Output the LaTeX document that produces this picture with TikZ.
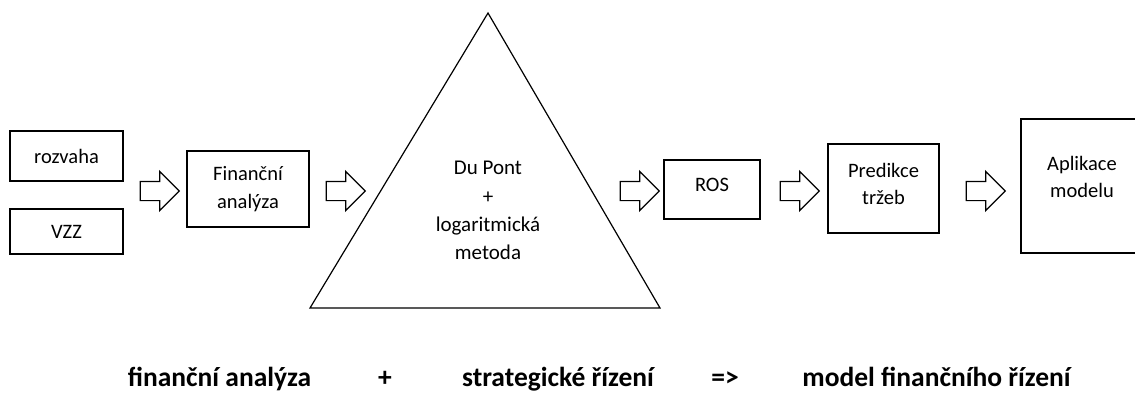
\documentclass[tikz,border=0pt]{standalone}
\usepackage{fontspec}
\setmainfont{Carlito}
\usetikzlibrary{shapes.arrows,calc}
\tikzset{
  box/.style={draw, line width=1.2pt, inner sep=0pt},
  blockarr/.style={single arrow, draw, line width=1.2pt, minimum height=39pt,
    single arrow head extend=10pt, inner sep=0pt, inner ysep=9pt},
  txt/.style={align=center, font=\fontsize{20.5}{27.5}\selectfont},
  foot/.style={anchor=base, font=\fontsize{27.5}{33}\selectfont\bfseries},
}

\begin{document}
\begin{tikzpicture}[x=1pt,y=1pt,yscale=-1,xscale=1]
\useasboundingbox (0,0) rectangle (1135,392);
\clip (0,0) rectangle (1135,392);

%Shape: Rectangle [rozvaha]
\node[box, txt, minimum width=113pt, minimum height=50pt] (rozv) at (66.5,156) {rozvaha};
%Shape: Rectangle [VZZ]
\node[box, txt, minimum width=113pt, minimum height=45pt] (vzz) at (66.5,231.5) {VZZ};
%Shape: Rectangle [Financni analyza]
\node[box, txt, minimum width=122pt, minimum height=76pt] (fin) at (248,189) {Finanční\\analýza};

%Shape: Triangle
\coordinate (triL) at (310,308);
\coordinate (triT) at (488,13);
\coordinate (triR) at (660,308);
\draw[line width=1.2pt, line join=miter] (triL) -- (triT) -- (triR) -- cycle;
% Text Node
\node[txt, font=\fontsize{21}{28.3}\selectfont] (dupont) at (488,210.5) {Du Pont\\+\\logaritmická\\metoda};

%Shape: Rectangle [ROS]
\node[box, minimum width=96pt, minimum height=59pt] (ros) at (712,189.5) {};
\node[txt] (rostxt) at ($(ros)+(0,-5)$) {ROS};
%Shape: Rectangle [Predikce trzeb]
\node[box, minimum width=111pt, minimum height=89pt] (pred) at (883.5,188.5) {};
\node[txt] (predtxt) at ($(pred)+(0,-4.5)$) {Predikce\\tržeb};
%Shape: Rectangle [Aplikace modelu]
\node[box, minimum width=122pt, minimum height=134pt] (apl) at (1082,186) {};
\node[txt] (apltxt) at ($(apl)+(0,-9)$) {Aplikace\\modelu};

%Block Arrows
\node[blockarr] (ar1) at (155,191) {};
\node[blockarr] (ar2) at (341,191) {};
\node[blockarr] (ar3) at (635,191) {};
\node[blockarr] (ar4) at (795,191) {};
\node[blockarr] (ar5) at (981,191) {};

% Text Node
\node[foot] (fa) at (219.5,386) {finanční analýza};
\node[foot] (plus) at (385,386) {+};
\node[foot] (sr) at (558,386) {strategické řízení};
\node[foot] (impl) at (725,386) {=>};
\node[foot] (mfr) at (936.5,386) {model finančního řízení};

\end{tikzpicture}
\end{document}
